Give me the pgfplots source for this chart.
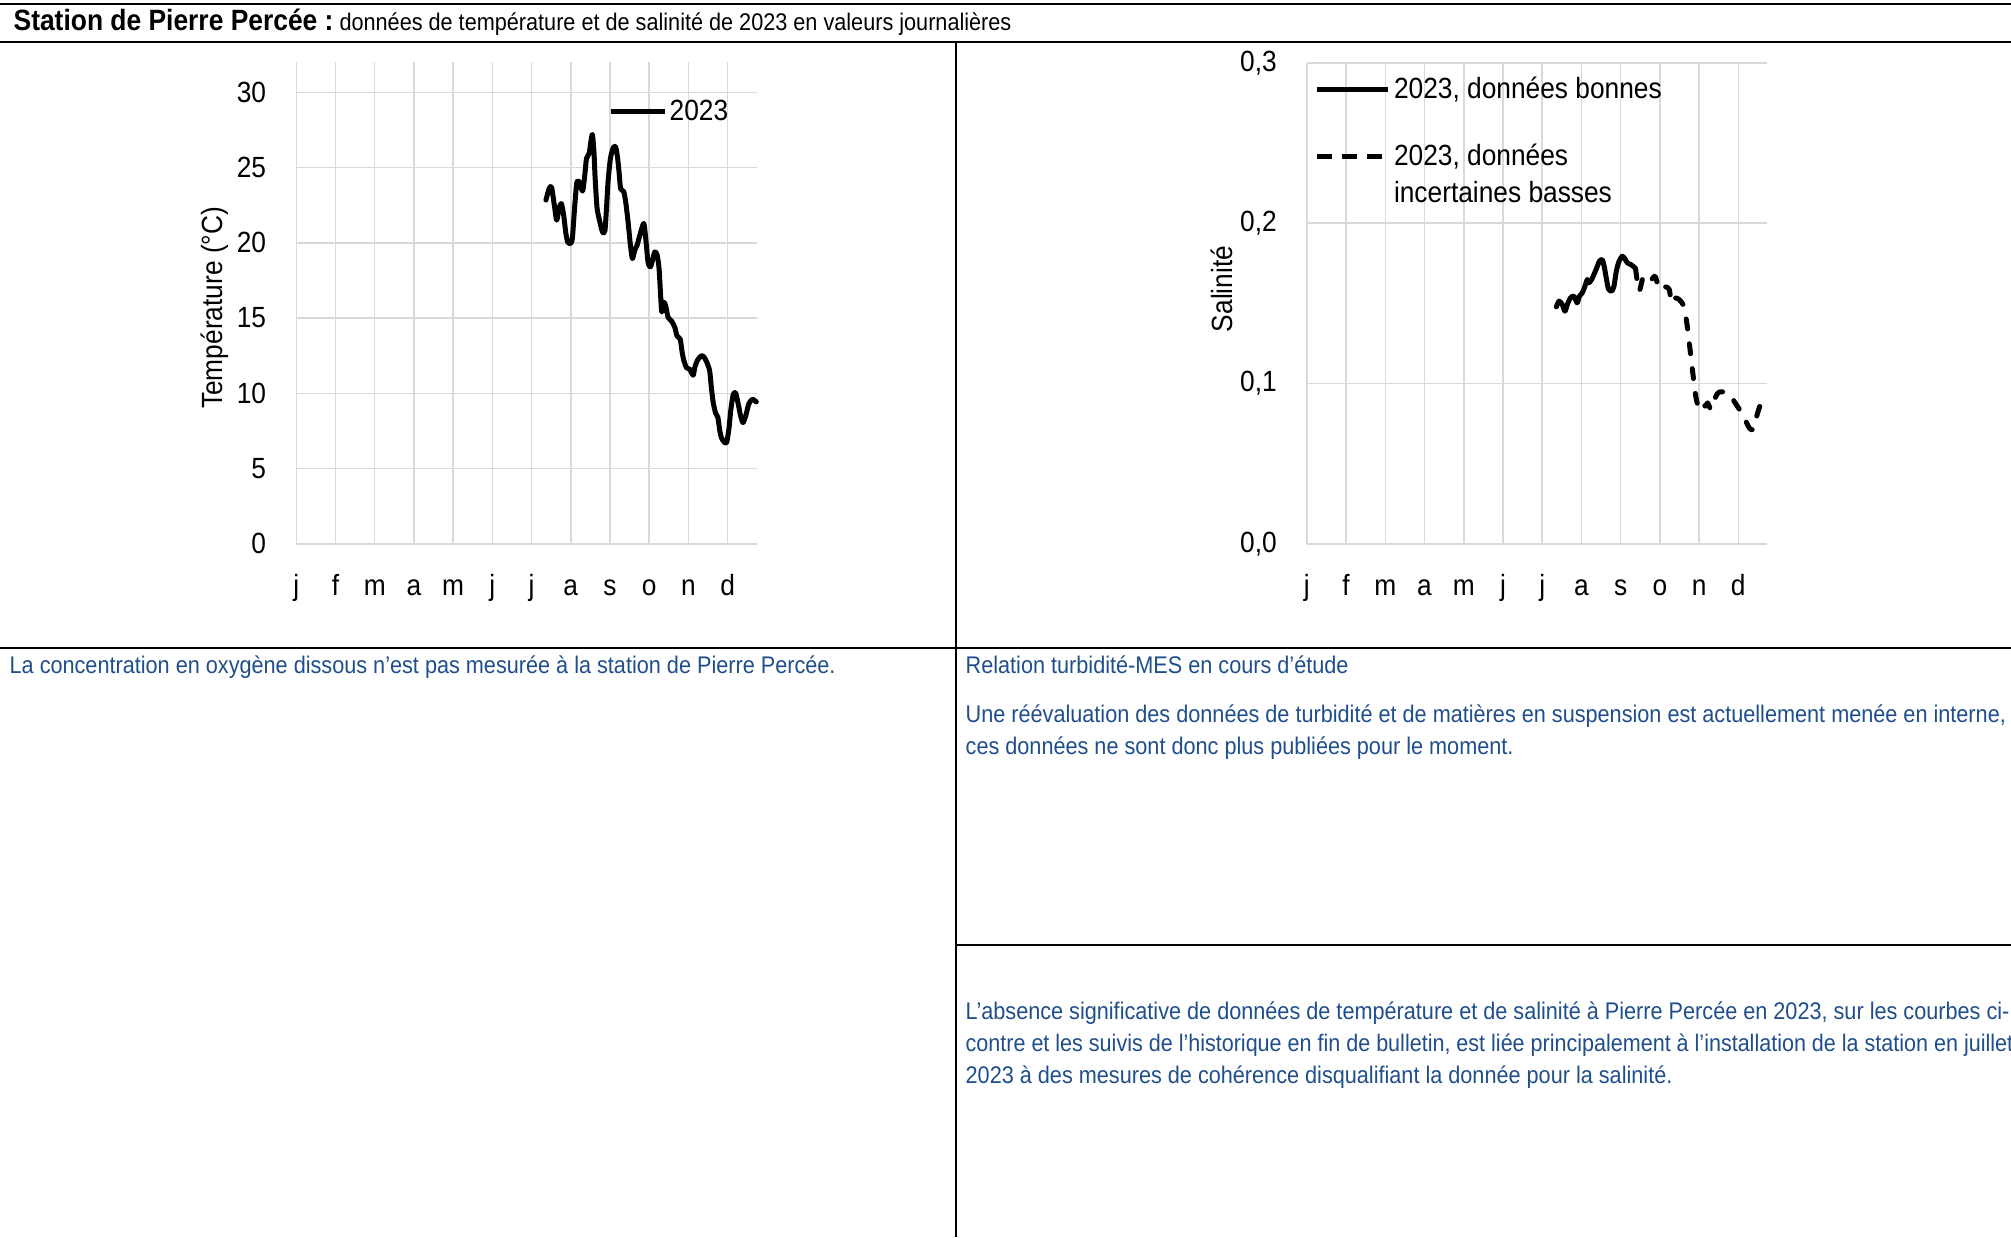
\documentclass[border=0pt]{standalone}
\usepackage{fontspec}
\setmainfont{Liberation Sans}[FakeStretch=0.9]
\usepackage{pgfplots}
\pgfplotsset{compat=1.18}
\definecolor{gridgray}{HTML}{D9D9D9}
\definecolor{bodyblue}{RGB}{31,78,140}
\newcommand\chartfont{\fontsize{8.77pt}{10.5pt}\selectfont}
\newcommand\bodyfont{\fontsize{7.22pt}{9pt}\selectfont}
\newcommand\titlebold{\fontsize{8.8pt}{10pt}\selectfont\bfseries}
% legend keys set inline with the legend text
\newcommand\solidkey[1]{\raisebox{1.95pt}{\rule{#1}{1.5pt}}}
\newcommand\dashkey{\raisebox{1.95pt}{\rule{4.6pt}{1.5pt}\hspace{2.9pt}\rule{4.6pt}{1.5pt}\hspace{2.9pt}\rule{4.6pt}{1.5pt}}\hspace{3.47pt}}
\pgfplotsset{
  chartstyle/.style={
    scale only axis,
    xmin=0, xmax=11.74,
    xtick={0,1,...,11},
    xticklabels={j,f,m,a,m,j,j,a,s,o,n,d},
    grid=major,
    major grid style={draw=gridgray, line width=0.45pt},
    axis line style={draw=none},
    major tick length=0pt,
    tick label style={font=\chartfont},
    label style={font=\chartfont},
    /pgf/number format/assume math mode=true,
    yticklabel style={anchor=east, inner sep=0pt, xshift=-8.85pt},
    xticklabel style={anchor=base, inner sep=0pt, yshift=-15.4pt},
    every axis y label/.style={anchor=center, rotate=90, font=\chartfont},
    legend cell align=left,
    legend image code/.code={},
    clip=false,
  },
  dataline/.style={black, line width=1.5pt, line join=round, line cap=round, smooth, tension=0.4},
}
\begin{document}
\begin{tikzpicture}[x=0.3pt, y=0.3pt]
\useasboundingbox (0,0) rectangle (2011,1237);
\clip (0,0) rectangle (2011,1237);
% table borders
\draw[line width=0.6pt] (0,1233.2) -- (2011,1233.2);
\draw[line width=0.6pt] (0,1195) -- (2011,1195);
\draw[line width=0.55pt] (955.6,1195) -- (955.6,0);
\draw[line width=0.6pt] (0,589.3) -- (2011,589.3);
\draw[line width=0.6pt] (955.6,292) -- (2011,292);
% title
\node[anchor=base west, inner sep=0pt] at (13,1206) {{\titlebold Station de Pierre Percée :}{\bodyfont\ données de température et de salinité de 2023 en valeurs journalières}};
% body texts
\begin{scope}[every node/.style={anchor=base west, inner sep=0pt, text=bodyblue, font=\bodyfont}]
\node at (9,564) {La concentration en oxygène dissous n’est pas mesurée à la station de Pierre Percée.};
\node at (965,564) {Relation turbidité-MES en cours d’étude};
\node at (965,515) {Une réévaluation des données de turbidité et de matières en suspension est actuellement menée en interne,};
\node at (965,483) {ces données ne sont donc plus publiées pour le moment.};
\node at (965,218) {L’absence significative de données de température et de salinité à Pierre Percée en 2023, sur les courbes ci-};
\node at (965,186) {\fontsize{7.18pt}{9pt}\selectfont contre et les suivis de l’historique en fin de bulletin, est liée principalement à l’installation de la station en juillet};
\node at (965,154) {2023 à des mesures de cohérence disqualifiant la donnée pour la salinité.};
\end{scope}
% temperature chart
\begin{axis}[chartstyle,
  at={(88.89pt,207.96pt)}, anchor=south west,
  width=138.12pt, height=144.48pt,
  ymin=0, ymax=32, ytick={0,5,...,30},
  ylabel={Température (°C)},
  ylabel style={at={(rel axis cs:-0.178,0.49)}},
  legend style={at={(rel axis cs:0.6825,0.8945)}, anchor=west, draw=none, fill=none,
    inner sep=0pt, outer sep=0pt, column sep=0pt, font=\chartfont,
    nodes={inner sep=0pt, font=\chartfont}},
]
\addplot[dataline] coordinates {
(6.365,22.84)(6.45,23.62)(6.51,23.69)(6.58,22.5)(6.64,21.5)(6.70,22.3)(6.76,22.6)(6.82,21.8)(6.87,20.7)(6.92,20.06)(6.99,19.95)(7.04,20.3)(7.09,22.1)(7.15,23.95)(7.21,24.07)(7.30,23.44)(7.36,24.6)(7.40,25.6)(7.47,25.96)(7.51,26.7)(7.55,27.2)(7.59,26.07)(7.62,24.3)(7.67,22.3)(7.74,21.4)(7.81,20.7)(7.87,20.8)(7.91,22.3)(7.95,24.07)(8.01,25.6)(8.08,26.3)(8.14,26.4)(8.19,25.7)(8.23,24.7)(8.27,23.6)(8.35,23.4)(8.40,22.7)(8.46,21.4)(8.52,19.84)(8.57,18.95)(8.63,19.5)(8.69,19.84)(8.76,20.5)(8.86,21.3)(8.91,20.3)(8.97,18.7)(9.03,18.4)(9.08,18.8)(9.14,19.4)(9.20,19.2)(9.25,18.3)(9.29,16.5)(9.32,15.4)(9.37,16.06)(9.42,15.8)(9.48,15.05)(9.57,14.8)(9.65,14.4)(9.71,13.8)(9.79,13.6)(9.84,12.7)(9.88,12.2)(9.95,11.7)(10.03,11.6)(10.12,11.2)(10.16,11.7)(10.23,12.2)(10.33,12.5)(10.40,12.4)(10.47,12.05)(10.54,11.5)(10.58,10.5)(10.63,9.4)(10.69,8.7)(10.75,8.4)(10.80,7.5)(10.84,7.05)(10.90,6.8)(10.97,6.7)(11.03,7.6)(11.08,8.9)(11.14,9.9)(11.20,10.05)(11.26,9.4)(11.33,8.5)(11.39,8.05)(11.46,8.5)(11.54,9.3)(11.63,9.6)(11.73,9.43)
};
\addlegendentry{\solidkey{16.2pt}\hspace{1.54pt}2023}
\end{axis}
% salinity chart
\begin{axis}[chartstyle,
  at={(392.07pt,207.96pt)}, anchor=south west,
  width=138.12pt, height=144.27pt,
  ymin=0, ymax=0.3, ytick={0,0.1,0.2,0.3},
  yticklabels={{0,0},{0,1},{0,2},{0,3}},
  ylabel={Salinité},
  ylabel style={at={(rel axis cs:-0.184,0.53)}},
  legend style={at={(rel axis cs:0.0222,0.9703)}, anchor=north west, draw=none, fill=none,
    inner sep=0pt, outer sep=0pt, column sep=0pt, row sep=0pt, font=\chartfont,
    nodes={inner sep=0pt, font=\chartfont}},
]
\addplot[dataline] coordinates {
(6.36,0.1478)(6.43,0.1514)(6.51,0.1493)(6.58,0.1451)(6.64,0.1493)(6.72,0.1534)(6.81,0.1545)(6.89,0.1503)(6.95,0.1545)(7.02,0.1565)(7.09,0.1607)(7.15,0.1649)(7.19,0.1628)(7.26,0.1649)(7.32,0.1680)(7.39,0.1721)(7.46,0.1763)(7.53,0.1773)(7.58,0.1732)(7.64,0.1649)(7.69,0.1590)(7.77,0.1576)(7.83,0.1607)(7.89,0.1701)(7.96,0.1763)(8.04,0.1794)(8.11,0.1778)(8.17,0.1753)(8.26,0.1742)(8.37,0.1721)
};
\addlegendentry{\rule[-2.2pt]{0pt}{8pt}\solidkey{21.15pt}\hspace{1.92pt}2023, données bonnes}
\addplot[dataline, dash pattern=on 3pt off 4.5pt] coordinates {
(8.38,0.1717)(8.47,0.1576)(8.57,0.1659)(8.68,0.1628)(8.79,0.1649)(8.88,0.1669)(8.96,0.1607)(9.05,0.1582)(9.15,0.1603)(9.24,0.1586)(9.30,0.1503)(9.39,0.1534)(9.49,0.1524)(9.59,0.1493)(9.66,0.1420)(9.71,0.1337)(9.76,0.1233)(9.81,0.1129)(9.85,0.1046)(9.89,0.0963)(9.94,0.0890)(10.02,0.0838)(10.09,0.0869)(10.16,0.0859)(10.22,0.0879)(10.30,0.0838)(10.36,0.0869)(10.43,0.0921)(10.51,0.0946)(10.68,0.0946)(10.81,0.0921)(10.92,0.0879)(11.03,0.0838)(11.15,0.0786)(11.28,0.0723)(11.38,0.0713)(11.47,0.0796)(11.55,0.0859)(11.66,0.0911)
};
\addlegendentry{\rule[-2.2pt]{0pt}{20.7pt}\dashkey 2023, données}
\addlegendimage{empty legend}
\addlegendentry{\rule[-2.2pt]{0pt}{11.8pt}\hspace{23.07pt}incertaines basses}
\end{axis}
\end{tikzpicture}
\end{document}
